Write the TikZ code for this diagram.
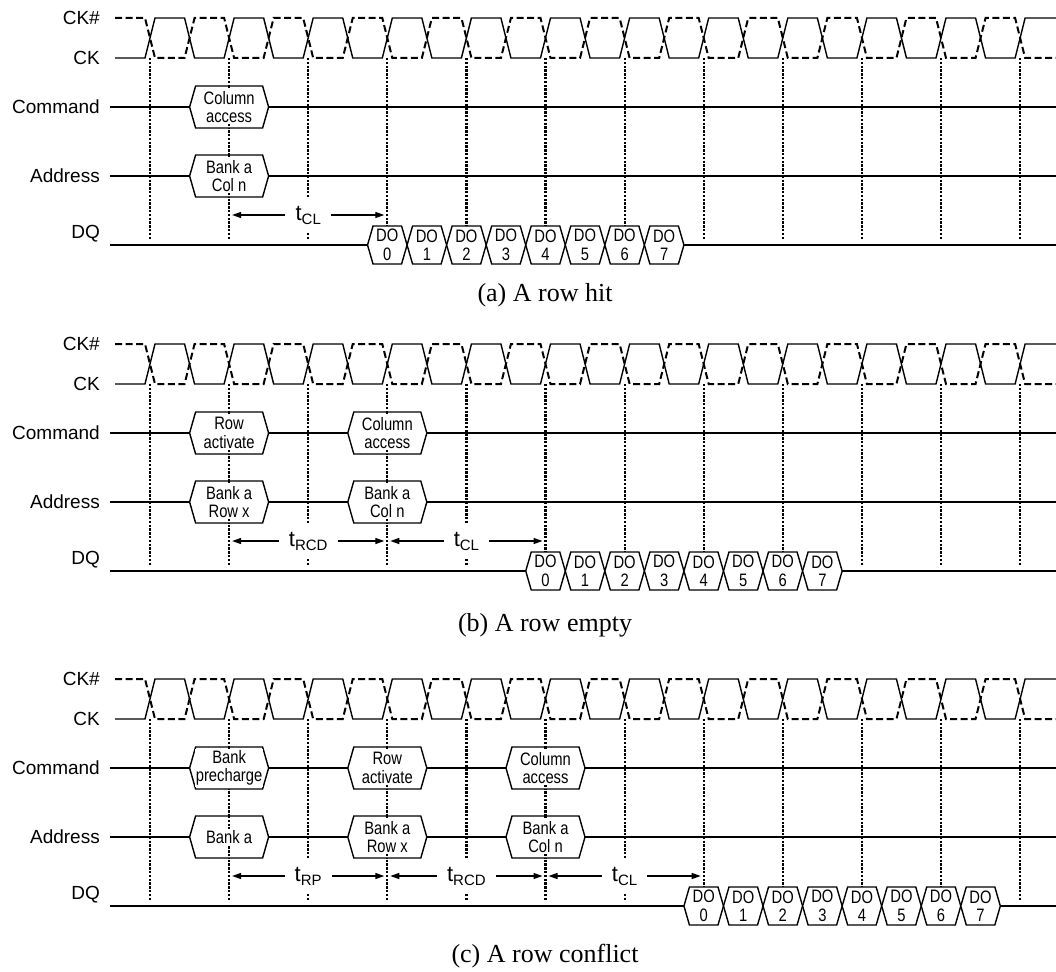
\documentclass[tikz,border=0pt]{standalone}
\usepackage{fontspec}
\setmainfont{Liberation Serif}
\newfontfamily\lblfont{Liberation Sans}
\newfontfamily\narrowfont[FakeStretch=0.82]{Liberation Sans}
\usetikzlibrary{arrows.meta}

\begin{document}
\begin{tikzpicture}[
  x=1pt, y=-1pt,
  sig/.style={line width=1.4pt},
  ckbar/.style={line width=2pt, dash pattern=on 7pt off 3.5pt},
  guide/.style={line width=2.2pt, dash pattern=on 2.4pt off 1.4pt},
  signame/.style={font=\lblfont\fontsize{19}{22}\selectfont, anchor=east, inner sep=0pt},
  boxtxt/.style={font=\narrowfont\fontsize{18}{18.5}\selectfont, align=center, inner sep=1pt, fill=white},
  tlbl/.style={font=\lblfont\fontsize{22}{24}\selectfont, fill=white, inner xsep=10pt, inner ysep=7pt},
  arrow/.style={-{Triangle[length=9pt, width=6pt]}, line width=1.3pt},
  subcap/.style={font=\fontsize{26}{30}\selectfont},
  pics/cmdbox/.style={code={
    \filldraw[sig, fill=white] (-39.5,0) -- (-33.5,-21) -- (33.5,-21) -- (39.5,0) -- (33.5,21) -- (-33.5,21) -- cycle;
    \draw[guide] (0,-21) -- (0,21);
    \node[boxtxt] (-t) {#1};
  }},
  pics/dobox/.style={code={
    \filldraw[sig, fill=white] (-19.77,0) -- (-14.27,-19) -- (14.27,-19) -- (19.77,0) -- (14.27,19) -- (-14.27,19) -- cycle;
    \node[boxtxt, fill=none] (-t) {DO\\#1};
  }},
]
\useasboundingbox (0,0) rectangle (1056,971);

% ============ common: clocks, guides, signal lines ============
\foreach \p/\dy in {a/0, b/326, c/661} {
\begin{scope}[shift={(0,\dy)}]
  \foreach \k in {0,...,11}
    \draw[guide] ({150+79.1*\k},58) -- ({150+79.1*\k},240);

  \draw[ckbar] (115,18) foreach \k in {0,...,10} {
      -- ({145+79.1*\k},18) -- ({155+79.1*\k},58) -- ({184.55+79.1*\k},58) -- ({194.55+79.1*\k},18) }
    -- (1015.1,18) -- (1025.1,58) -- (1056,58);
  \draw[sig] (115,58) foreach \k in {0,...,10} {
      -- ({145+79.1*\k},58) -- ({155+79.1*\k},18) -- ({184.55+79.1*\k},18) -- ({194.55+79.1*\k},58) }
    -- (1015.1,58) -- (1025.1,18) -- (1056,18);

  \draw[sig] (110,107) -- (1056,107);
  \draw[sig] (110,176) -- (1056,176);
  \draw[sig] (110,245) -- (1056,245);

  \node[signame] (\p-lckn) at (100,18)  {CK\#};
  \node[signame] (\p-lck)  at (100,58)  {CK};
  \node[signame] (\p-lcmd) at (100,107) {Command};
  \node[signame] (\p-ladr) at (100,176) {Address};
  \node[signame] (\p-ldq)  at (100,234) {DQ};
\end{scope}
}

% ============ (a) row hit ============
\pic (a-col) at (229.1,107) {cmdbox={Column\\access}};
\pic (a-cln) at (229.1,176) {cmdbox={Bank a\\Col n}};

\node[tlbl] (a-tcl) at (308.2,215) {t\raisebox{-4pt}{\fontsize{15}{15}\selectfont CL}};
\coordinate (a-tcl-l) at (232.1,215);
\coordinate (a-tcl-r) at (384.3,215);
\draw[arrow] (a-tcl) -- (a-tcl-l);
\draw[arrow] (a-tcl) -- (a-tcl-r);

\foreach \i in {0,...,7}
  \pic (a-do\i) at ({387.3+39.55*\i},245) {dobox=\i};

\node[subcap] (a-cap) at (545,295) {(a) A row hit};

% ============ (b) row empty ============
\begin{scope}[shift={(0,326)}]
\pic (b-row) at (229.1,107) {cmdbox={Row\\activate}};
\pic (b-brx) at (229.1,176) {cmdbox={Bank a\\Row x}};
\pic (b-col) at (387.3,107) {cmdbox={Column\\access}};
\pic (b-cln) at (387.3,176) {cmdbox={Bank a\\Col n}};

\node[tlbl] (b-trcd) at (308.2,215) {t\raisebox{-4pt}{\fontsize{15}{15}\selectfont RCD}};
\coordinate (b-trcd-l) at (232.1,215);
\coordinate (b-trcd-r) at (384.3,215);
\draw[arrow] (b-trcd) -- (b-trcd-l);
\draw[arrow] (b-trcd) -- (b-trcd-r);

\node[tlbl] (b-tcl) at (466.4,215) {t\raisebox{-4pt}{\fontsize{15}{15}\selectfont CL}};
\coordinate (b-tcl-l) at (390.3,215);
\coordinate (b-tcl-r) at (542.5,215);
\draw[arrow] (b-tcl) -- (b-tcl-l);
\draw[arrow] (b-tcl) -- (b-tcl-r);

\foreach \i in {0,...,7}
  \pic (b-do\i) at ({545.5+39.55*\i},245) {dobox=\i};

\node[subcap] (b-cap) at (545,299) {(b) A row empty};
\end{scope}

% ============ (c) row conflict ============
\begin{scope}[shift={(0,661)}]
\pic (c-pre) at (229.1,107) {cmdbox={Bank\\precharge}};
\pic (c-bnk) at (229.1,176) {cmdbox={Bank a}};
\pic (c-row) at (387.3,107) {cmdbox={Row\\activate}};
\pic (c-brx) at (387.3,176) {cmdbox={Bank a\\Row x}};
\pic (c-col) at (545.5,107) {cmdbox={Column\\access}};
\pic (c-cln) at (545.5,176) {cmdbox={Bank a\\Col n}};

\node[tlbl] (c-trp) at (308.2,215) {t\raisebox{-4pt}{\fontsize{15}{15}\selectfont RP}};
\coordinate (c-trp-l) at (232.1,215);
\coordinate (c-trp-r) at (384.3,215);
\draw[arrow] (c-trp) -- (c-trp-l);
\draw[arrow] (c-trp) -- (c-trp-r);

\node[tlbl] (c-trcd) at (466.4,215) {t\raisebox{-4pt}{\fontsize{15}{15}\selectfont RCD}};
\coordinate (c-trcd-l) at (390.3,215);
\coordinate (c-trcd-r) at (542.5,215);
\draw[arrow] (c-trcd) -- (c-trcd-l);
\draw[arrow] (c-trcd) -- (c-trcd-r);

\node[tlbl] (c-tcl) at (624.6,215) {t\raisebox{-4pt}{\fontsize{15}{15}\selectfont CL}};
\coordinate (c-tcl-l) at (548.5,215);
\coordinate (c-tcl-r) at (700.7,215);
\draw[arrow] (c-tcl) -- (c-tcl-l);
\draw[arrow] (c-tcl) -- (c-tcl-r);

\foreach \i in {0,...,7}
  \pic (c-do\i) at ({703.7+39.55*\i},245) {dobox=\i};

\node[subcap] (c-cap) at (545,295) {(c) A row conflict};
\end{scope}

\end{tikzpicture}
\end{document}
